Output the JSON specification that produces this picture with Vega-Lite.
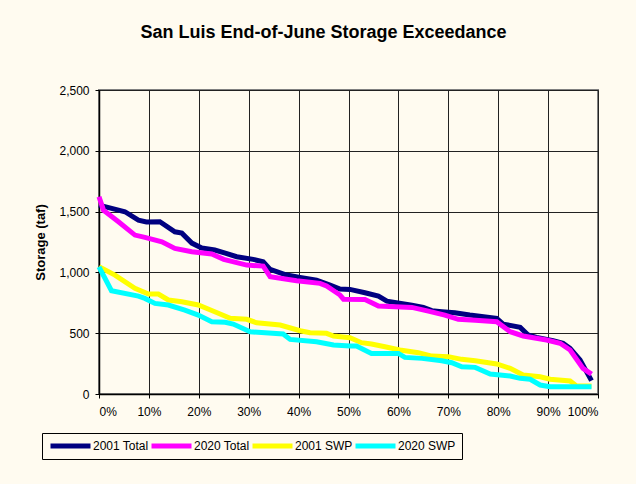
{
  "$schema": "https://vega.github.io/schema/vega-lite/v6.json",
  "width": 499,
  "height": 304,
  "autosize": {"type": "none"},
  "padding": {"left": 99, "top": 90, "right": 38, "bottom": 90},
  "background": "#FFFBF0",
  "title": {"text": "San Luis End-of-June Storage Exceedance", "font": "Liberation Sans", "fontSize": 18, "fontWeight": "bold", "color": "black", "anchor": "middle", "offset": 42, "dx": -25},
  "config": {"view": {"fill": "#FFFBF0", "stroke": "#808080", "strokeWidth": 2}, "font": "Liberation Sans"},
  "data": {"values": [
    {"s": "2001 Total", "p": 0.000, "v": 1553}, {"s": "2001 Total", "p": 0.052, "v": 1499}, {"s": "2001 Total", "p": 0.079, "v": 1430}, {"s": "2001 Total", "p": 0.095, "v": 1415}, {"s": "2001 Total", "p": 0.122, "v": 1417}, {"s": "2001 Total", "p": 0.152, "v": 1334}, {"s": "2001 Total", "p": 0.166, "v": 1323}, {"s": "2001 Total", "p": 0.186, "v": 1241}, {"s": "2001 Total", "p": 0.206, "v": 1200}, {"s": "2001 Total", "p": 0.232, "v": 1184}, {"s": "2001 Total", "p": 0.253, "v": 1159}, {"s": "2001 Total", "p": 0.276, "v": 1129}, {"s": "2001 Total", "p": 0.309, "v": 1107}, {"s": "2001 Total", "p": 0.329, "v": 1088}, {"s": "2001 Total", "p": 0.343, "v": 1025}, {"s": "2001 Total", "p": 0.376, "v": 978}, {"s": "2001 Total", "p": 0.403, "v": 959}, {"s": "2001 Total", "p": 0.436, "v": 937}, {"s": "2001 Total", "p": 0.463, "v": 896}, {"s": "2001 Total", "p": 0.483, "v": 863}, {"s": "2001 Total", "p": 0.503, "v": 860}, {"s": "2001 Total", "p": 0.533, "v": 833}, {"s": "2001 Total", "p": 0.560, "v": 805}, {"s": "2001 Total", "p": 0.577, "v": 764}, {"s": "2001 Total", "p": 0.627, "v": 731}, {"s": "2001 Total", "p": 0.650, "v": 712}, {"s": "2001 Total", "p": 0.667, "v": 685}, {"s": "2001 Total", "p": 0.687, "v": 677}, {"s": "2001 Total", "p": 0.713, "v": 668}, {"s": "2001 Total", "p": 0.743, "v": 649}, {"s": "2001 Total", "p": 0.797, "v": 622}, {"s": "2001 Total", "p": 0.810, "v": 575}, {"s": "2001 Total", "p": 0.844, "v": 548}, {"s": "2001 Total", "p": 0.860, "v": 485}, {"s": "2001 Total", "p": 0.877, "v": 466}, {"s": "2001 Total", "p": 0.910, "v": 438}, {"s": "2001 Total", "p": 0.930, "v": 417}, {"s": "2001 Total", "p": 0.944, "v": 376}, {"s": "2001 Total", "p": 0.964, "v": 280}, {"s": "2001 Total", "p": 0.987, "v": 110},
    {"s": "2020 Total", "p": 0.000, "v": 1622}, {"s": "2020 Total", "p": 0.009, "v": 1512}, {"s": "2020 Total", "p": 0.039, "v": 1417}, {"s": "2020 Total", "p": 0.072, "v": 1307}, {"s": "2020 Total", "p": 0.092, "v": 1288}, {"s": "2020 Total", "p": 0.126, "v": 1252}, {"s": "2020 Total", "p": 0.152, "v": 1197}, {"s": "2020 Total", "p": 0.186, "v": 1170}, {"s": "2020 Total", "p": 0.226, "v": 1151}, {"s": "2020 Total", "p": 0.250, "v": 1107}, {"s": "2020 Total", "p": 0.296, "v": 1060}, {"s": "2020 Total", "p": 0.329, "v": 1052}, {"s": "2020 Total", "p": 0.343, "v": 964}, {"s": "2020 Total", "p": 0.396, "v": 931}, {"s": "2020 Total", "p": 0.443, "v": 910}, {"s": "2020 Total", "p": 0.456, "v": 888}, {"s": "2020 Total", "p": 0.483, "v": 814}, {"s": "2020 Total", "p": 0.490, "v": 780}, {"s": "2020 Total", "p": 0.533, "v": 778}, {"s": "2020 Total", "p": 0.560, "v": 723}, {"s": "2020 Total", "p": 0.627, "v": 712}, {"s": "2020 Total", "p": 0.660, "v": 682}, {"s": "2020 Total", "p": 0.693, "v": 649}, {"s": "2020 Total", "p": 0.720, "v": 614}, {"s": "2020 Total", "p": 0.754, "v": 606}, {"s": "2020 Total", "p": 0.797, "v": 594}, {"s": "2020 Total", "p": 0.824, "v": 512}, {"s": "2020 Total", "p": 0.850, "v": 477}, {"s": "2020 Total", "p": 0.897, "v": 444}, {"s": "2020 Total", "p": 0.924, "v": 417}, {"s": "2020 Total", "p": 0.944, "v": 362}, {"s": "2020 Total", "p": 0.970, "v": 211}, {"s": "2020 Total", "p": 0.987, "v": 164},
    {"s": "2001 SWP", "p": 0.000, "v": 1046}, {"s": "2001 SWP", "p": 0.032, "v": 978}, {"s": "2001 SWP", "p": 0.072, "v": 869}, {"s": "2001 SWP", "p": 0.099, "v": 822}, {"s": "2001 SWP", "p": 0.119, "v": 822}, {"s": "2001 SWP", "p": 0.139, "v": 773}, {"s": "2001 SWP", "p": 0.166, "v": 759}, {"s": "2001 SWP", "p": 0.199, "v": 732}, {"s": "2001 SWP", "p": 0.232, "v": 676}, {"s": "2001 SWP", "p": 0.263, "v": 622}, {"s": "2001 SWP", "p": 0.296, "v": 614}, {"s": "2001 SWP", "p": 0.316, "v": 586}, {"s": "2001 SWP", "p": 0.363, "v": 567}, {"s": "2001 SWP", "p": 0.403, "v": 520}, {"s": "2001 SWP", "p": 0.423, "v": 504}, {"s": "2001 SWP", "p": 0.456, "v": 499}, {"s": "2001 SWP", "p": 0.470, "v": 477}, {"s": "2001 SWP", "p": 0.503, "v": 463}, {"s": "2001 SWP", "p": 0.526, "v": 422}, {"s": "2001 SWP", "p": 0.546, "v": 411}, {"s": "2001 SWP", "p": 0.573, "v": 389}, {"s": "2001 SWP", "p": 0.603, "v": 362}, {"s": "2001 SWP", "p": 0.640, "v": 340}, {"s": "2001 SWP", "p": 0.667, "v": 312}, {"s": "2001 SWP", "p": 0.700, "v": 307}, {"s": "2001 SWP", "p": 0.727, "v": 285}, {"s": "2001 SWP", "p": 0.754, "v": 274}, {"s": "2001 SWP", "p": 0.797, "v": 247}, {"s": "2001 SWP", "p": 0.824, "v": 211}, {"s": "2001 SWP", "p": 0.850, "v": 156}, {"s": "2001 SWP", "p": 0.884, "v": 142}, {"s": "2001 SWP", "p": 0.904, "v": 121}, {"s": "2001 SWP", "p": 0.944, "v": 107}, {"s": "2001 SWP", "p": 0.957, "v": 66}, {"s": "2001 SWP", "p": 0.987, "v": 66},
    {"s": "2020 SWP", "p": 0.000, "v": 1046}, {"s": "2020 SWP", "p": 0.025, "v": 849}, {"s": "2020 SWP", "p": 0.079, "v": 805}, {"s": "2020 SWP", "p": 0.092, "v": 786}, {"s": "2020 SWP", "p": 0.112, "v": 745}, {"s": "2020 SWP", "p": 0.139, "v": 732}, {"s": "2020 SWP", "p": 0.172, "v": 690}, {"s": "2020 SWP", "p": 0.199, "v": 649}, {"s": "2020 SWP", "p": 0.226, "v": 594}, {"s": "2020 SWP", "p": 0.253, "v": 590}, {"s": "2020 SWP", "p": 0.269, "v": 575}, {"s": "2020 SWP", "p": 0.303, "v": 512}, {"s": "2020 SWP", "p": 0.369, "v": 493}, {"s": "2020 SWP", "p": 0.383, "v": 449}, {"s": "2020 SWP", "p": 0.436, "v": 430}, {"s": "2020 SWP", "p": 0.470, "v": 403}, {"s": "2020 SWP", "p": 0.503, "v": 395}, {"s": "2020 SWP", "p": 0.516, "v": 395}, {"s": "2020 SWP", "p": 0.546, "v": 334}, {"s": "2020 SWP", "p": 0.600, "v": 334}, {"s": "2020 SWP", "p": 0.613, "v": 301}, {"s": "2020 SWP", "p": 0.647, "v": 293}, {"s": "2020 SWP", "p": 0.687, "v": 274}, {"s": "2020 SWP", "p": 0.707, "v": 257}, {"s": "2020 SWP", "p": 0.727, "v": 224}, {"s": "2020 SWP", "p": 0.754, "v": 219}, {"s": "2020 SWP", "p": 0.784, "v": 164}, {"s": "2020 SWP", "p": 0.824, "v": 148}, {"s": "2020 SWP", "p": 0.844, "v": 129}, {"s": "2020 SWP", "p": 0.864, "v": 121}, {"s": "2020 SWP", "p": 0.884, "v": 74}, {"s": "2020 SWP", "p": 0.904, "v": 60}, {"s": "2020 SWP", "p": 0.987, "v": 60}
  ]},
  "mark": {"type": "line", "interpolate": "linear"},
  "encoding": {
    "x": {"field": "p", "type": "quantitative", "scale": {"domain": [0, 1], "nice": false},
      "axis": {"format": ".0%", "values": [0, 0.1, 0.2, 0.3, 0.4, 0.5, 0.6, 0.7, 0.8, 0.9, 1], "title": null, "grid": true, "gridColor": "#222222", "gridOpacity": 1, "gridWidth": 1, "domainColor": "black", "domainWidth": 1.5, "tickColor": "black", "tickSize": 4, "labelFontSize": 12, "labelColor": "black", "labelPadding": 8, "labelFont": "Liberation Sans"}},
    "y": {"field": "v", "type": "quantitative", "scale": {"domain": [0, 2500], "nice": false},
      "axis": {"format": ",.0f", "values": [0, 500, 1000, 1500, 2000, 2500], "title": "Storage (taf)", "titleFontSize": 13, "titleFontWeight": "bold", "titleColor": "black", "titlePadding": 11, "titleFont": "Liberation Sans", "grid": true, "gridColor": "#222222", "gridOpacity": 1, "gridWidth": 1, "domainColor": "black", "domainWidth": 1.5, "tickColor": "black", "tickSize": 4, "labelFontSize": 12, "labelColor": "black", "labelPadding": 6, "labelFont": "Liberation Sans"}},
    "color": {"field": "s", "type": "nominal", "sort": ["2001 Total", "2020 Total", "2001 SWP", "2020 SWP"],
      "scale": {"domain": ["2001 Total", "2020 Total", "2001 SWP", "2020 SWP"], "range": ["#000080", "#FF00FF", "#FFFF00", "#00FFFF"]},
      "legend": {"title": null, "orient": "none", "legendX": -57, "legendY": 343, "direction": "horizontal", "symbolType": "stroke", "symbolSize": 1600, "clipHeight": 14, "labelFontSize": 12, "labelColor": "black", "labelFont": "Liberation Sans", "labelOffset": 0, "columnPadding": 0, "strokeColor": "black", "padding": 6, "fillColor": "#FFFBF0"}},
    "strokeWidth": {"field": "s", "type": "nominal", "sort": ["2001 Total", "2020 Total", "2001 SWP", "2020 SWP"],
      "scale": {"domain": ["2001 Total", "2020 Total", "2001 SWP", "2020 SWP"], "range": [5, 5, 2, 2]},
      "legend": null}
  }
}
